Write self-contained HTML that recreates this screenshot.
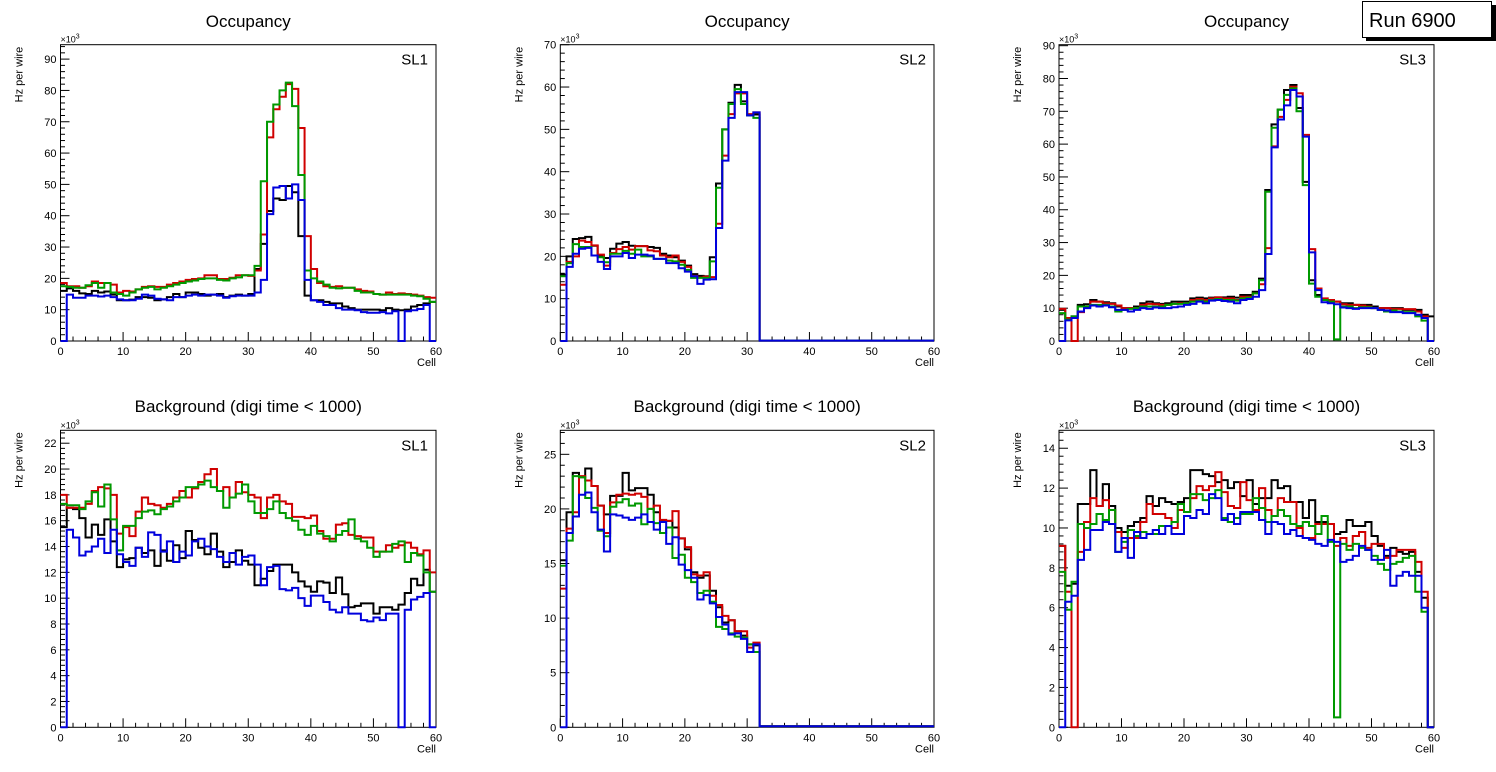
<!DOCTYPE html>
<html><head><meta charset="utf-8">
<style>
html,body{margin:0;padding:0;background:#fff;}
svg{display:block;font-family:"Liberation Sans",sans-serif;}
</style></head>
<body>
<svg id="chart" width="1496" height="772" viewBox="0 0 1496 772" xmlns="http://www.w3.org/2000/svg">
<rect x="0" y="0" width="1496" height="772" fill="#fff"/>
<g id="panels"></g>
<g>
<rect x="1366" y="5" width="130" height="36" fill="#000"/>
<rect x="1362.5" y="1.5" width="129" height="36" fill="#fff" stroke="#000" stroke-width="1"/>
<text x="1369" y="27" font-size="20" fill="#000">Run 6900</text>
</g>
</svg>
<script>
const categories = Array.from({length:60},(_,i)=>i);
const z28 = new Array(28).fill(0.1);
// Top row: Occupancy
const occSL1Black=[16,16.8,16,15.2,15,16,15.5,15.8,14.8,13,13,13.2,14,14,13.8,13,13.3,14,15,14,15.5,15.5,15,14.5,14.8,15,14,14.5,14.8,14.5,15,23,31,41.5,45.5,45,49.5,47.5,33.5,14.5,13,13,12.5,12,12,11,10.5,10,10,10,10,9.8,10.5,10,9.8,10,11,11.5,12,12.5];
const occSL1Red=[18.5,17.5,17.5,17,17.5,19,18.5,18.5,18,15.5,16,15.8,16.5,17.3,17.5,17.3,17.3,18,18.5,19,19.5,19.8,20,21,21,19.8,19.8,20.2,21,21,20.8,22.5,34,65,74,78,82,80.5,68,33.5,23,18.5,17.5,17.3,17.5,17,17,16.5,16,15.8,15,14.8,15.5,15,15.2,15,14.8,14.5,14,13.8];
const occSL1Green=[17.5,17.3,17,17,17.8,18.5,17,18.5,15.5,15,14.5,15.5,16.5,17,17.3,16.5,17,17.5,18,18.5,19,19.3,19.8,20,20,19.5,19.3,20,20.3,21,21,24,51,70,75.5,80,82.5,75,53,22.5,20,19,18,17,16.8,17,17,16,15.5,15.5,15,14.8,14.8,14.8,14.8,14.8,14.5,14.3,13.5,12.5];
const occSL1Blue=[0,14.8,13.8,13.8,14.5,14.5,14.2,14.5,14,13.3,13,13,13.5,14.8,14.5,13.5,13.3,13,14,14,14.5,14.8,14.5,14.8,14.8,14.5,13.8,14.3,14.5,14.5,14.5,15.5,19.5,40.5,49,49.5,45.5,50,45,19.5,13,12.5,11.5,11.5,10.5,10,10,9.8,9.2,9,9,9.2,8.8,9.5,0,9.5,9.8,10.2,11.5,0];
const occSL2Black=[15.7,20,24.1,24.3,24.6,22.5,20.2,19.6,21.8,23,23.4,22.5,22.4,22.4,22.2,22,20.6,20.2,19.8,19,17.8,15.8,15.4,15.3,19.8,37.2,50,56.3,60.5,56.6,53.3,53.5].concat(z28);
const occSL2Red=[13.3,18.7,20,23.7,23.4,22.6,20.4,17.8,20.8,21.7,22.2,21.6,22.4,22.4,21.4,21.2,20.2,19.8,20.2,18.7,17.5,15.4,15,15.2,15.1,27.7,43.8,53.6,58.5,58.5,53.6,54].concat(z28);
const occSL2Green=[15.3,18.4,22.9,22.2,22.2,20.2,19.8,18.6,20.6,20.6,21.3,20.6,21.6,20,20,19.4,19.4,19,18.8,18,16.8,14.9,14.9,14.9,18.8,36.2,50,56,59.5,56,53.3,52.7].concat(z28);
const occSL2Blue=[0,17.5,20.6,21.8,22,20.2,18.7,17,20,20,20.8,19.6,20.4,20.4,20.2,19.4,19.4,18.4,18.4,17.2,16.4,15.3,13.5,14.5,14.6,26.7,42.6,52.7,58.8,58.8,53.3,54].concat(z28);
const occSL3Black=[9.5,7,7.5,11,11.2,12.5,12,11.8,11.5,10.5,10,10,10.5,11.5,12,11.5,11.3,11.5,12,12,12,13,13.2,13,13.2,13.3,13.3,13.5,13.2,14,14,15,19,46,66,70.5,76.5,78,71,48.5,18.5,14,12.5,12.3,12,11.5,11.5,11,11,11,10.5,10,10,10,10,9.5,9.5,9.5,8,7.5];
const occSL3Red=[9.8,7,0,8.8,10.5,12,12,11.5,11.3,10.8,10,10,10,11,11.3,11.2,11,11,11.3,11.5,11.5,12.5,12.8,12.5,13,13.3,13,13,12.5,13.5,13.5,14.5,17.3,28.3,59.3,68.3,73.5,77.5,75.5,62.8,28,16,13,12.5,12,11.2,11,11,10.8,10.5,10,10,10,9.8,9.8,9.7,9.7,9,7.5,0];
const occSL3Green=[8.5,6.5,7.5,10.5,10.5,11,11,11,10.5,9,9.5,9.8,10,10.5,10.5,10.5,10.5,11,11.3,11.3,11.5,12,12.3,12,12.5,12.8,12.5,12.5,12.3,13,13.2,14.5,18.5,45.5,65,70.5,75,77,70,47.5,17.5,13.5,12.5,12,0.5,10.5,10.5,10,10.3,10.3,10,9.5,9,9.3,9,8.8,8.8,7.5,6.2,0];
const occSL3Blue=[0,6.3,7,9,10,10.8,10.5,10.8,10.3,9.5,9.5,9,9.5,10,9.8,10.2,10,10,10.3,10.5,11,11.3,12,11.5,12.3,12.5,12.2,12,11.5,12.5,12.8,13.5,15.5,26.5,59,67.5,71.8,76.5,74.5,62.3,27,15.5,11.8,11.5,11.2,10.2,10,9.8,10,10,10,9.5,9.3,8.8,8.8,8.5,8.5,8,7,0];
// Bottom row: Background
const bkgSL1Black=[15.5,17,16.9,16.2,14.7,15.7,14.9,16.1,14.4,12.4,13,13.1,13.9,13.5,13.7,12.5,13.7,12.9,14.1,13.1,15.2,14.5,13.9,13.4,15,13.6,12.4,12.8,13.7,12.9,12.6,11,11.5,12.1,12.6,12.6,12.6,12,11.3,10.9,10.5,11.3,11.2,10.4,11.6,10.3,9.3,9.4,9.6,9.6,8.8,9.3,9.3,9.1,9.5,10.4,11.5,11,12.2,10.5];
const bkgSL1Red=[18,17,17,17,17.3,18.3,18.6,18.5,18,15,15.5,14.8,16.7,17.8,17.3,17.2,17,17.3,17.8,18.3,17.8,18.5,19,19.6,20,18.3,18.6,17.8,19,18.2,18,17.8,16.2,17.8,18,17.5,17.3,16.3,16.3,16.2,16.4,15.2,14.6,14.6,15.7,15.8,14.9,14.8,14.7,14.7,13.6,13.6,14.1,13.9,14.1,14.3,13.9,13.4,13.7,12];
const bkgSL1Green=[17.3,17.2,17.2,16.9,17.5,18.2,17.1,18.8,16.1,13.7,15.6,15.6,16.2,16.7,16.8,16.5,16.9,17.1,17.5,17.8,18.6,18.6,18.8,19.1,18.6,18.3,17,17.8,18.1,18.8,17.5,16.6,16.6,16.9,17.5,16.6,16.2,16,15.3,14.9,15.6,15,14.8,14.4,14.9,15.2,16.1,14.6,14.4,13.9,13.2,13.6,13.6,14.2,14.4,12.8,13.5,13.3,12,10.5];
const bkgSL1Blue=[0,15.3,14.7,13.3,13.6,14,14.6,13.5,15.3,13.4,12.8,12.5,13.9,13.2,15.1,14.9,13.6,14.4,12.8,13.6,13.3,14.4,14.6,14,13.8,13.2,12.8,13.5,12.6,13.2,13.3,12.6,11,12.4,12.5,10.7,10.6,10.8,10,9.4,10.2,10.2,9.7,9.1,8.9,9.3,8.8,8.8,8.3,8.2,8.5,8.3,8.8,8.8,0,9.1,9.9,10.1,10.4,0];
const bkgSL2Black=[15.3,19.7,23.3,22.9,23.7,22.1,20.3,19.5,21.2,21.2,23.3,21.7,21.9,21.9,21.3,19.7,18.9,18.9,18.3,17.3,16.3,14.2,13.7,13.9,12.5,11,9.6,9.8,8.8,8.4,7.6,7.5].concat(z28);
const bkgSL2Red=[12.7,18.2,19.7,23,22.6,22.1,20.3,17.8,20.6,21.3,21.4,21.3,21.4,21.1,20,20.3,19,18.9,19.8,17.3,16.5,14,13.9,14.2,12.05,11.2,10.2,9.8,8.8,8.8,7.3,7.75].concat(z28);
const bkgSL2Green=[14.8,17.1,23,22.9,21,20.1,18,17.5,20.2,20.6,20.9,20.3,20.5,18.6,20,18.7,17.8,18.3,15.5,15.8,13.7,13.3,12.3,12.5,11.5,9.2,9,8.6,8.3,8.2,7.6,6.9].concat(z28);
const bkgSL2Blue=[0,17.8,19.3,21.3,21.5,19.7,18.1,16.1,19.5,19.4,19.2,19,19.2,19.5,18.8,18.1,18.8,16.8,17.4,14.9,14.4,13.7,11.7,12.1,11.35,10.1,9.4,8.5,8.6,8.1,6.9,7.6].concat(z28);
const bkgSL3Black=[9.1,7.1,7.2,11.2,11.2,12.9,11.1,12.2,11.1,10,9.8,10.1,10.3,10.5,11.6,11.1,11.5,11.3,11.2,11.3,11.5,12.9,12.9,12.7,12.6,12.3,12.4,12,12.3,11.6,12.4,11.2,11.5,11.5,12.4,12,12.1,11.3,11.3,10.5,11.4,10.3,10.3,10.2,9.7,9.8,10.4,10.1,10.1,10.3,9.6,9.1,8.6,9,8.8,8.7,8.8,7.8,6.5,0];
const bkgSL3Red=[9.1,6.8,0,8.8,10.3,11.5,11.1,11.4,10.9,9.8,9,9.5,9.5,10.3,11.2,10.7,10.7,10.5,10,10.9,10.8,11.5,12.1,11.9,12.1,12.8,11.8,11.1,11,12.3,11.4,10.9,12,10.9,10.6,11.5,11.3,11.3,10,9.5,9.5,10.2,10.2,10.2,9.1,9.5,9.1,9.6,9.8,9,9.2,9.2,8.5,8.6,8.9,8.9,8.9,8.3,6.8,0];
const bkgSL3Green=[7.8,5.9,7.3,10.2,10,10.2,10.7,10.4,10.9,8.8,9.3,9.9,9.6,9.8,9.7,9.7,10.1,10.1,10.3,11.2,10.8,11.7,11.7,11.4,11.5,11.9,10.5,10.3,10.5,10.7,10.7,11.5,11,10.3,10.6,10.9,10.6,10.2,10.1,10.3,10.1,9.7,10.6,9.3,0.5,9.2,8.9,9.2,9,8.9,8.6,8.2,7.9,8.2,8.3,8.5,8.6,6.8,5.8,0];
const bkgSL3Blue=[0,6.3,6.6,8.4,8.9,9.9,9.9,10.3,10.2,8.8,9.5,8.5,9.8,9.5,9.7,9.9,9.7,10.1,9.7,9.7,10.6,10.5,10.9,10.7,11.7,11.5,10.4,10.7,10.2,10.8,10.8,10.8,10.4,9.7,10.3,10.2,9.7,9.9,9.6,9.5,9.4,9.2,9.1,9.4,9.3,8.3,8.4,8.6,9.1,8.9,8.4,8.4,8.9,7.1,7.6,7.8,7.6,7.6,6,0];
const xTicks=[0,10,20,30,40,50,60];
const yMaxes=[94.6,70,90.3,23,27.2,14.9];
const yMajor=[10,10,10,2,5,2];
const titles=["Occupancy","Occupancy","Occupancy","Background (digi time < 1000)","Background (digi time < 1000)","Background (digi time < 1000)"];
const slLabels=["SL1","SL2","SL3","SL1","SL2","SL3"];
const seriesColors=["#000000","#d00000","#009900","#0000dd"];
const seriesNames=["black","red","green","blue"];
const panelData=[
 [occSL1Black,occSL1Red,occSL1Green,occSL1Blue],
 [occSL2Black,occSL2Red,occSL2Green,occSL2Blue],
 [occSL3Black,occSL3Red,occSL3Green,occSL3Blue],
 [bkgSL1Black,bkgSL1Red,bkgSL1Green,bkgSL1Blue],
 [bkgSL2Black,bkgSL2Red,bkgSL2Green,bkgSL2Blue],
 [bkgSL3Black,bkgSL3Red,bkgSL3Green,bkgSL3Blue]
];
const NS="http://www.w3.org/2000/svg";
const colsX=[[60.5,436],[560.3,934],[1059,1434]];
const rowsY=[[44.7,341],[430.3,727.3]];
function mk(tag,attrs,parent){const e=document.createElementNS(NS,tag);for(const k in attrs)e.setAttribute(k,attrs[k]);parent.appendChild(e);return e;}
const root=document.getElementById('panels');
for(let p=0;p<6;p++){
  const c=p%3,r=Math.floor(p/3);
  const [x0,x1]=colsX[c],[y0,y1]=rowsY[r];
  const ymax=yMaxes[p];
  const xs=v=>x0+(v/60)*(x1-x0);
  const ys=v=>y1-(v/ymax)*(y1-y0);
  const g=mk('g',{},root);
  
  
  const t=mk('text',{x:(x0+x1)/2,y:r===0?27:412,'font-size':17,'text-anchor':'middle'},g);t.textContent=titles[p];
  
  
  const fr=mk('rect',{x:x0,y:y0,width:x1-x0,height:y1-y0,fill:'none',stroke:'#000','stroke-width':1},g);
  
  
  // x ticks
  for(let v=0;v<=60;v+=2){
    const major=v%10===0;
    const tk=mk('line',{x1:xs(v),x2:xs(v),y1:y1,y2:y1-(major?9:4.5),stroke:'#000','stroke-width':1},g);
    
    
  }
  xTicks.forEach(v=>{const l=mk('text',{x:xs(v),y:y1+14,'font-size':11,'text-anchor':'middle'},g);l.textContent=v;
    
    });
  const xl=mk('text',{x:x1,y:y1+25,'font-size':11,'text-anchor':'end'},g);xl.textContent='Cell';
  
  
  // y ticks
  const mj=yMajor[p],mn=mj/5;
  for(let k=0;k*mn<=ymax+1e-9;k++){
    const v=k*mn,major=k%5===0;
    const tk=mk('line',{x1:x0,x2:x0+(major?9:4.5),y1:ys(v),y2:ys(v),stroke:'#000','stroke-width':1},g);
    
    
    if(major){const l=mk('text',{x:x0-4,y:ys(v)+4,'font-size':11,'text-anchor':'end'},g);l.textContent=Math.round(v);
      
      }
  }
  const ex=mk('text',{x:x0,y:y0-2,'font-size':9},g);ex.innerHTML='×10<tspan font-size="7" dy="-4">3</tspan>';
  
  
  const yt=mk('text',{x:0,y:0,'font-size':11,'text-anchor':'end',transform:`translate(${x0-38},${y0+2}) rotate(-90)`},g);yt.textContent='Hz per wire';
  
  
  const sl=mk('text',{x:x1-8,y:y0+20,'font-size':15,'text-anchor':'end'},g);sl.textContent=slLabels[p];
  
  
  // series
  panelData[p].forEach((vals,si)=>{
    let d='M'+xs(0)+','+ys(vals[0]);
    for(let i=0;i<vals.length;i++){
      if(i>0)d+='V'+ys(vals[i]);
      d+='H'+xs(categories[i]+1);
    }
    const path=mk('path',{d:d,fill:'none',stroke:seriesColors[si],'stroke-width':2,'stroke-linejoin':'miter'},g);
    
    
  });
}
</script>
</body></html>
